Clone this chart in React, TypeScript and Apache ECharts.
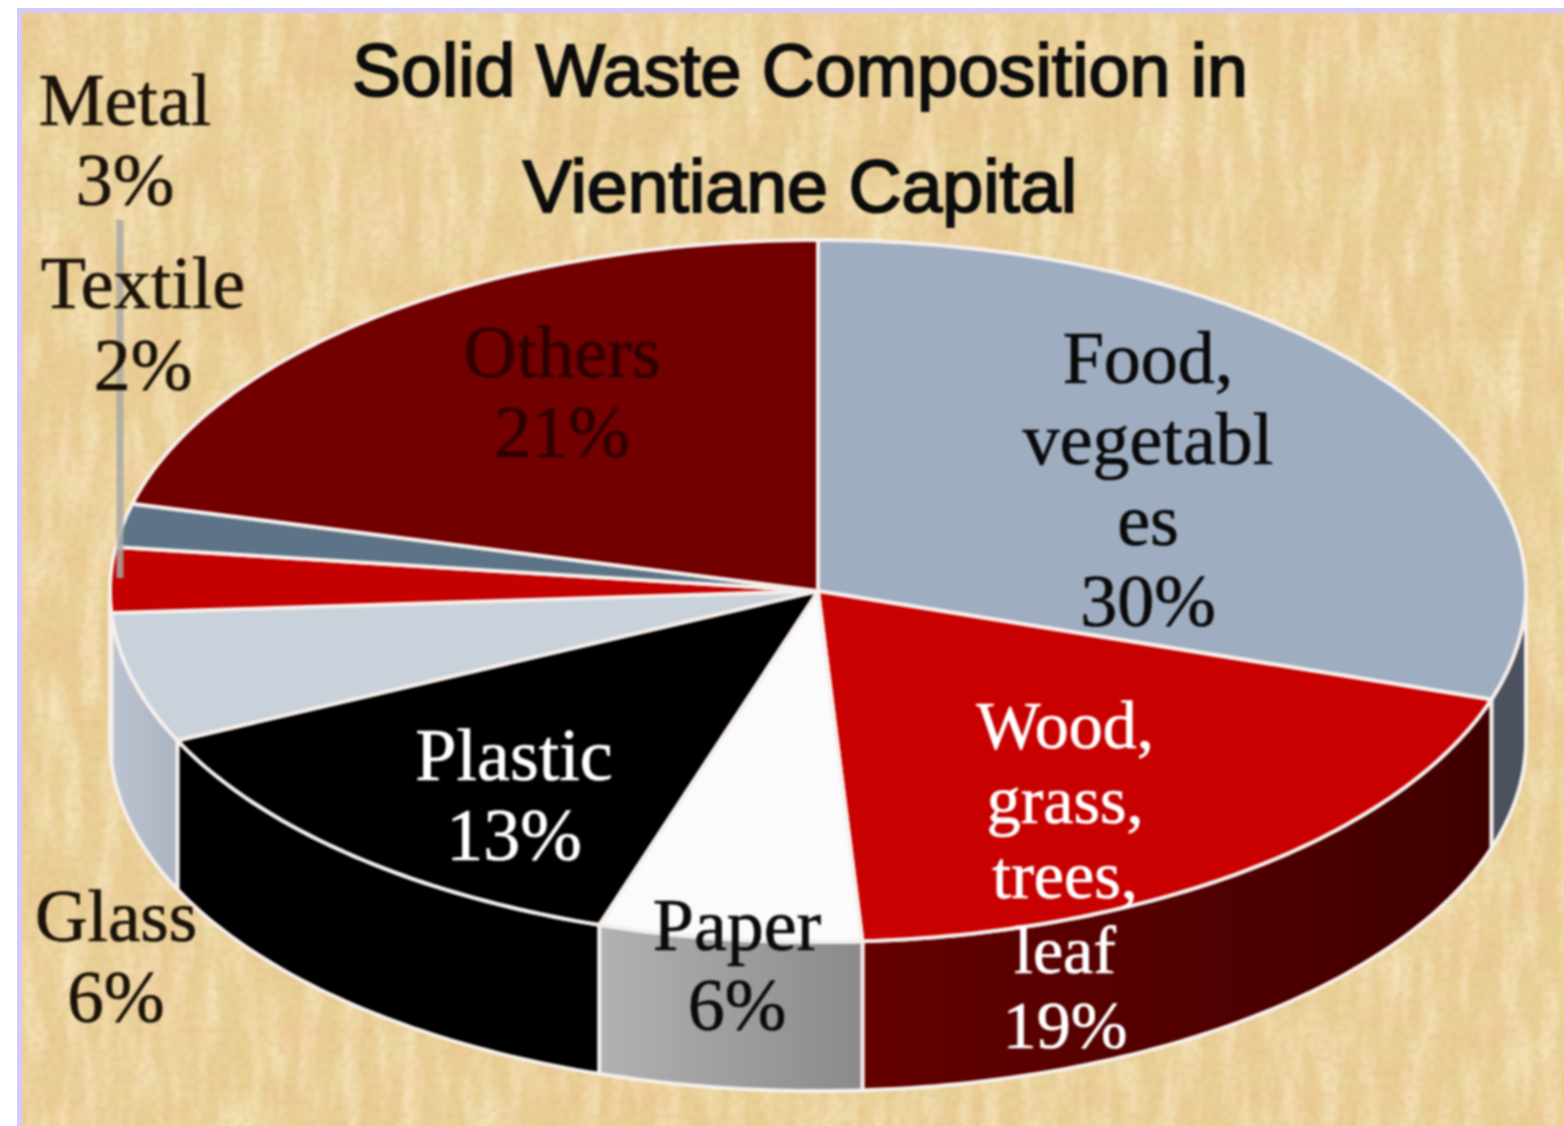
import React, { useEffect, useRef } from "react";
import * as echarts from "echarts";

const titleText = "Solid Waste Composition in\nVientiane Capital";
const categories = ["Food,\nvegetabl\nes", "Wood,\ngrass,\ntrees,\nleaf", "Paper", "Plastic", "Glass", "Metal", "Textile", "Others"];
const shares = [30, 19, 6, 13, 6, 3, 2, 21];
const topColors = ["#9fadc0", "#c90000", "#fbfbfb", "#000000", "#c9d1da", "#c40000", "#5d7488", "#720000"];

const PIE = { cx: 818, cy: 591, rx: 708, ry: 351, depth: 149 };
const labelStyles = [
  { x: 1148, y: 479, size: 74, lh: 81, color: "#0a0a0a" },
  { x: 1065, y: 875, size: 68, lh: 75, color: "#ffffff" },
  { x: 737, y: 965, size: 74, lh: 80, color: "#0a0a0a" },
  { x: 514, y: 795, size: 74, lh: 80, color: "#ffffff" },
  { x: 116, y: 957, size: 73, lh: 81, color: "#1a1208" },
  { x: 125, y: 140, size: 74, lh: 80, color: "#1a1208" },
  { x: 143, y: 324, size: 74, lh: 82, color: "#1a1208" },
  { x: 562, y: 392, size: 74, lh: 80, color: "#2e0000" },
];

const grad = (stops: [number, string][]) =>
  new echarts.graphic.LinearGradient(0, 0, 1, 0, stops.map(([offset, color]) => ({ offset, color })));
const wallFills: any[] = [
  "#4b525e",
  grad([[0, "#640000"], [0.5, "#520000"], [1, "#3f0000"]]),
  grad([[0, "#b2b2b2"], [1, "#8a8a8a"]]),
  "#000000",
  grad([[0, "#bcc4d0"], [1, "#aab3c0"]]),
  "#b0b8c4",
  "#7f8c99",
  "#4a0000",
];

const ellipsePoint = (deg: number, dy = 0): [number, number] => {
  const a = (deg * Math.PI) / 180;
  return [PIE.cx + PIE.rx * Math.sin(a), PIE.cy - PIE.ry * Math.cos(a) + dy];
};
const arcPoints = (from: number, to: number, dy = 0) => {
  const pts: [number, number][] = [];
  const n = Math.max(2, Math.ceil(to - from));
  for (let i = 0; i <= n; i++) pts.push(ellipsePoint(from + ((to - from) * i) / n, dy));
  return pts;
};
const total = shares.reduce((a, b) => a + b, 0);
const span = (idx: number) => {
  const before = shares.slice(0, idx).reduce((a, b) => a + b, 0);
  return [(before / total) * 360, ((before + shares[idx]) / total) * 360];
};

const texture =
  "data:image/svg+xml;utf8," +
  encodeURIComponent(
    `<svg xmlns='http://www.w3.org/2000/svg' width='1564' height='1126'>
      <filter id='a' x='0' y='0' width='100%' height='100%'><feTurbulence type='fractalNoise' baseFrequency='0.012 0.03' numOctaves='3' seed='4'/><feColorMatrix values='0 0 0 0 0.85  0 0 0 0 0.58  0 0 0 0 0.3  2 0 0 0 -0.75'/></filter>
      <filter id='b' x='0' y='0' width='100%' height='100%'><feTurbulence type='fractalNoise' baseFrequency='0.05 0.012' numOctaves='2' seed='9'/><feColorMatrix values='0 0 0 0 1  0 0 0 0 0.9  0 0 0 0 0.68  2 0 0 0 -0.8'/></filter>
      <filter id='c' x='0' y='0' width='100%' height='100%'><feTurbulence type='fractalNoise' baseFrequency='0.14 0.14' numOctaves='1' seed='2'/><feColorMatrix values='0 0 0 0 0.66  0 0 0 0 0.5  0 0 0 0 0.24  1.6 0 0 0 -0.62'/></filter>
      <rect width='1564' height='1126' fill='#e9d196'/>
      <rect width='1564' height='1126' filter='url(#a)'/>
      <rect width='1564' height='1126' filter='url(#b)' opacity='0.6'/>
      <rect width='1564' height='1126' filter='url(#c)' opacity='0.45'/>
    </svg>`
  );

export default function App() {
  const ref = useRef<HTMLDivElement>(null);
  useEffect(() => {
    const chart = echarts.init(ref.current!, undefined, { renderer: "svg" });
    const data = categories.map((name, i) => ({ name, value: shares[i] }));
    const stroke = { stroke: "#f5eeea", lineWidth: 4, lineJoin: "round" };
    const labels: any[] = [];
    categories.forEach((name, i) => {
      const s = labelStyles[i];
      const lines = [...name.split("\n"), `${shares[i]}%`];
      lines.forEach((text, k) => {
        labels.push({
          type: "text",
          z: 50,
          x: s.x,
          y: s.y + (k - (lines.length - 1) / 2) * s.lh,
          style: {
            text,
            fill: s.color,
            stroke: s.color,
            lineWidth: 0.7,
            font: `${s.size}px "Liberation Serif"`,
            textAlign: "center",
            textVerticalAlign: "middle",
          },
        });
      });
    });
    chart.setOption({
      animation: false,
      backgroundColor: "transparent",
      title: {
        text: titleText,
        left: 795,
        top: 7,
        textAlign: "center",
        textStyle: {
          fontFamily: '"Liberation Sans"',
          fontSize: 73.5,
          fontWeight: "normal",
          lineHeight: 116,
          color: "#0c0c0c",
          textBorderColor: "#0c0c0c",
          textBorderWidth: 2,
        },
      },
      graphic: [
        {
          type: "line",
          z: 40,
          shape: { x1: 120, y1: 220, x2: 120, y2: 578 },
          style: { stroke: "#a8a8a4", lineWidth: 7, opacity: 0.85 },
        },
        ...labels,
      ],
      series: [
        {
          type: "custom",
          coordinateSystem: "none",
          z: 2,
          data,
          silent: true,
          renderItem: (params: any) => {
            const [a, b] = span(params.dataIndex);
            const from = Math.max(a, 90);
            const to = Math.min(b, 270);
            if (to <= from) return { type: "group", children: [] };
            const points = [...arcPoints(from, to), ...arcPoints(from, to, PIE.depth).reverse()];
            return {
              type: "polygon",
              shape: { points },
              style: { fill: wallFills[params.dataIndex], ...stroke },
            };
          },
        },
        {
          type: "custom",
          coordinateSystem: "none",
          z: 3,
          data,
          silent: true,
          renderItem: (params: any) => {
            const [a, b] = span(params.dataIndex);
            const points = [[PIE.cx, PIE.cy], ...arcPoints(a, b)];
            return {
              type: "polygon",
              shape: { points },
              style: { fill: topColors[params.dataIndex], ...stroke },
            };
          },
        },
      ],
    });
    return () => chart.dispose();
  }, []);
  return (
    <div style={{ position: "absolute", left: 0, top: 0, width: 1564, height: 1126, background: "#ffffff", overflow: "hidden" }}>
      <div
        style={{
          position: "absolute",
          left: 17,
          top: 8,
          width: 1547,
          height: 1118,
          boxSizing: "border-box",
          borderLeft: "5px solid #d6caf8",
          borderTop: "5px solid #d6caf8",
          backgroundImage: `url("${texture}")`,
        }}
      />
      <div ref={ref} style={{ position: "absolute", left: 0, top: 0, width: 1564, height: 1126, filter: "blur(0.9px)" }} />
    </div>
  );
}
